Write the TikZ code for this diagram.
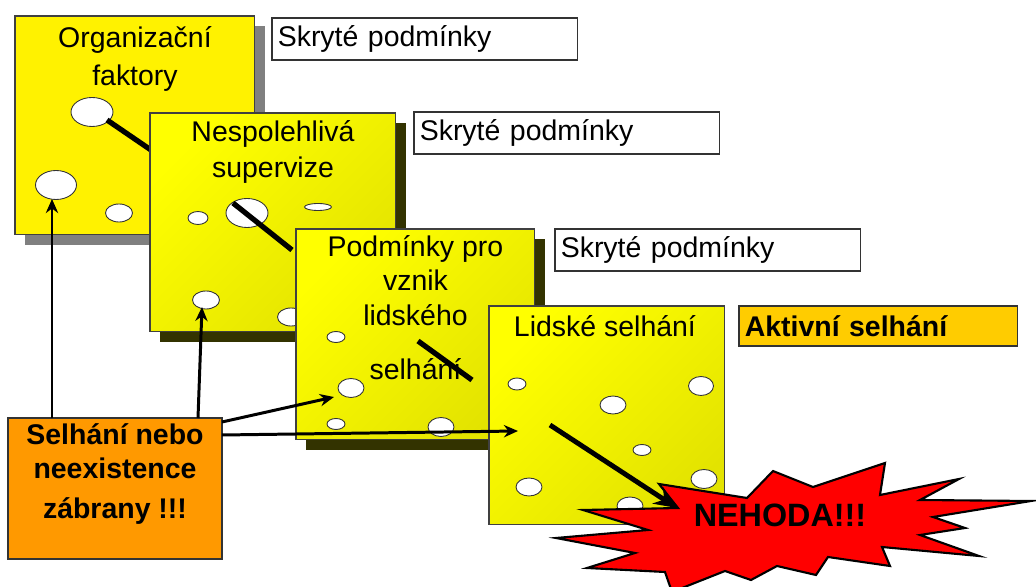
\documentclass[tikz,border=0pt]{standalone}
\usepackage{fontspec}
\setmainfont{Liberation Sans}
\usetikzlibrary{positioning,arrows.meta,shapes.geometric,calc}
\definecolor{olivedark}{HTML}{333300}
\definecolor{shadowgray}{HTML}{808080}
\definecolor{lateyellow}{HTML}{E3E300}
\definecolor{activeamber}{HTML}{FFCC00}
\definecolor{barrierorange}{HTML}{FF9900}
\tikzset{
  slab/.style    = {draw=black!75, line width=0.6pt, anchor=north west, inner sep=0pt, outer sep=0pt,
                    minimum height=4.38cm},
  slabflat/.style = {slab, fill=yellow},
  slabfade/.style = {slab, top color=yellow, bottom color=lateyellow, shading angle=45},
  slabshade/.style = {anchor=north west, inner sep=0pt, outer sep=0pt, minimum height=4.38cm,
                    xshift=0.2cm, yshift=-0.2cm},
  title/.style   = {align=center, inner sep=0pt, font=\fontsize{16.2}{20.4}\selectfont},
  tag/.style     = {draw=black!80, line width=0.6pt, fill=white, anchor=north west, inner xsep=3.3pt,
                    inner ysep=0pt, outer sep=0pt, minimum height=0.84cm, text width=5.88cm,
                    align=left, font=\fontsize{16.2}{20}\selectfont},
  hole/.style    = {draw=black!80, line width=0.5pt, fill=white, ellipse, inner sep=0pt, outer sep=0pt},
  rod/.style     = {line width=3pt},
  arrow/.style   = {-{Stealth[length=8pt,width=7pt]}, line width=1.7pt},
}

\begin{document}
\begin{tikzpicture}[x=0.02cm,y=-0.02cm]
  \useasboundingbox (0,0) rectangle (1036,587);

  % first slab
  \node[slabshade, fill=shadowgray, minimum width=4.8cm] at (15,16) {};
  \node[slabflat, minimum width=4.8cm] (org) at (15,16) {};
  \node[title, below=0.2cm of org.north] (orgtext) {Organizační\\[1.1pt]faktory};
  \node[hole, minimum width=0.84cm, minimum height=0.58cm] (orgA) at (92,112) {};
  \node[hole, minimum width=0.82cm, minimum height=0.58cm] (orgB) at (56,185) {};
  \node[hole, minimum width=0.54cm, minimum height=0.36cm] (orgC) at (119,213) {};
  \coordinate (orgrod) at (170,163);
  \draw[rod] (orgA) ++(15,8) -- (orgrod);

  % second slab
  \node[slabshade, fill=olivedark, minimum width=4.92cm] at (150,113) {};
  \node[slabfade, minimum width=4.92cm] (sup) at (150,113) {};
  \node[title, below=0.14cm of sup.north] (suptext) {Nespolehlivá\\supervize};
  \node[hole, minimum width=0.4cm, minimum height=0.26cm] (supA) at (198,218) {};
  \node[hole, minimum width=0.84cm, minimum height=0.58cm] (supB) at (247,213) {};
  \node[hole, minimum width=0.54cm, minimum height=0.14cm] (supC) at (318,207) {};
  \node[hole, minimum width=0.54cm, minimum height=0.36cm] (supD) at (206,300) {};
  \node[hole, minimum width=0.54cm, minimum height=0.36cm] (supE) at (291,317) {};
  \coordinate (suprodA) at (233,203);
  \coordinate (suprodB) at (292,250);
  \draw[rod] (suprodA) -- (suprodB);

  % third slab
  \node[slabshade, fill=olivedark, minimum width=4.78cm, minimum height=4.22cm] at (296,229) {};
  \node[slabfade, minimum width=4.78cm, minimum height=4.22cm] (cond) at (296,229) {};
  \node[title, below=0.12cm of cond.north] (condtext) {Podmínky pro\\[-1.2pt]vznik\\[-0.2pt]lidského\\[10.4pt]selhání};
  \node[hole, minimum width=0.36cm, minimum height=0.22cm] (condA) at (336,337) {};
  \node[hole, minimum width=0.52cm, minimum height=0.38cm] (condB) at (351,388) {};
  \node[hole, minimum width=0.36cm, minimum height=0.22cm] (condC) at (336,424) {};
  \node[hole, minimum width=0.52cm, minimum height=0.38cm] (condD) at (441,427) {};
  \coordinate (condrodA) at (418,341);
  \coordinate (condrodB) at (472,380);
  \draw[rod] (condrodA) -- (condrodB);

  % fourth slab
  \node[slabfade, minimum width=4.72cm] (human) at (489,306) {};
  \node[title, below=0.18cm of human.north, xshift=-0.04cm] (humantext) {Lidské selhání};
  \node[hole, minimum width=0.36cm, minimum height=0.24cm] (humanA) at (517,384) {};
  \node[hole, minimum width=0.5cm, minimum height=0.38cm] (humanB) at (701,386) {};
  \node[hole, minimum width=0.52cm, minimum height=0.36cm] (humanC) at (613,405) {};
  \node[hole, minimum width=0.36cm, minimum height=0.22cm] (humanD) at (642,450) {};
  \node[hole, minimum width=0.52cm, minimum height=0.36cm] (humanE) at (529,487) {};
  \node[hole, minimum width=0.52cm, minimum height=0.38cm] (humanF) at (704,479) {};
  \node[hole, minimum width=0.52cm, minimum height=0.36cm] (humanG) at (630,506) {};

  % tags on the right
  \node[tag] (tagA) at (272,18) {Skryté podmínky};
  \node[tag] (tagB) at (414,112) {Skryté podmínky};
  \node[tag] (tagC) at (555,229) {Skryté podmínky};
  \node[tag, fill=activeamber, text width=5.34cm, minimum height=0.8cm, font=\fontsize{16.2}{20}\selectfont\bfseries] (tagD) at (739,306) {Aktivní selhání};

  % the burst
  \draw[line width=1.2pt, fill=red, miter limit=20] (659,484) -- (747,498) -- (773,471) -- (813,487)
    -- (885,463) -- (880,495) -- (959,479) -- (920,500) -- (1031,501) -- (933,517) -- (965,528)
    -- (920,535) -- (979,556) -- (882,547) -- (890,566) -- (828,557) -- (816,575) -- (777,566)
    -- (751,580) -- (725,571) -- (672,592) -- (665,572) -- (587,568) -- (635,553) -- (556,538)
    -- (648,530) -- (583,510) -- (678,508) -- cycle;
  \node[font=\fontsize{18.4}{22}\selectfont\bfseries, inner sep=0pt] (crash) at (780,515) {NEHODA!!!};

  % barrier box and its arrows
  \node[draw=black!80, line width=0.6pt, fill=barrierorange, inner sep=0pt, outer sep=0pt,
        minimum width=4.28cm, minimum height=2.82cm] (barrier) at (115,488.5) {};
  \node[title, font=\fontsize{16.2}{20.4}\selectfont\bfseries, below=0.1cm of barrier.north]
        (barriertext) {Selhání nebo\\[-0.8pt]neexistence\\[2pt]zábrany !!!};
  \coordinate (toOrg) at (52,199);
  \coordinate (toSup) at (202,307);
  \coordinate (toCond) at (334,397);
  \coordinate (toHuman) at (518,431);
  \coordinate (rodstart) at (550,425);
  \coordinate (rodend) at (677,508);
  \draw[arrow] (barrier.north -| toOrg) -- (toOrg);
  \draw[arrow] (barrier.north -| 198,0) -- (toSup);
  \draw[arrow] (barrier.east |- 0,422) -- (toCond);
  \draw[arrow] (barrier.east |- 0,435) -- (toHuman);
  \draw[-{Stealth[length=13pt,width=11pt]}, line width=2.8pt] (rodstart) -- (rodend);
\end{tikzpicture}
\end{document}
